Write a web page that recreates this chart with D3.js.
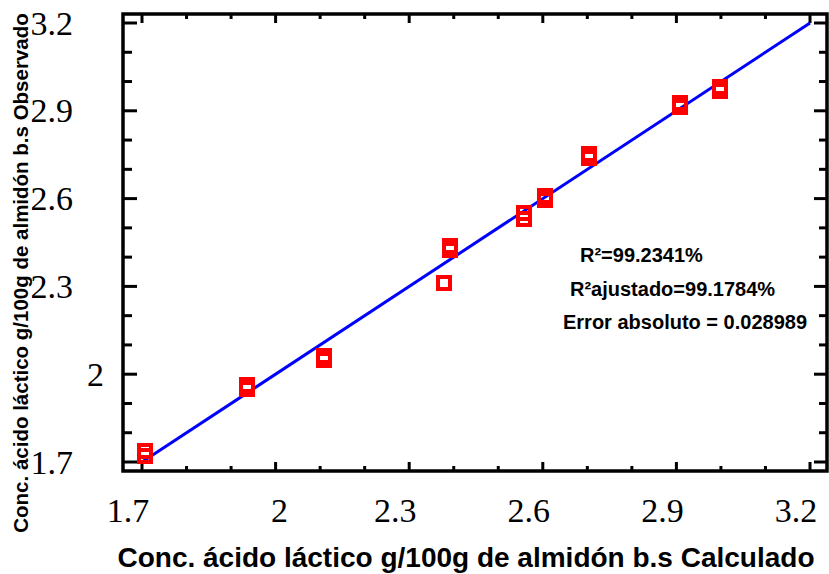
<!DOCTYPE html>
<html>
<head>
<meta charset="utf-8">
<script src="https://cdn.jsdelivr.net/npm/d3@7/dist/d3.min.js"></script>
<style>
  html, body { margin: 0; padding: 0; background: #fff; }
  svg { display: block; }
</style>
</head>
<body>
<svg id="chart" width="829" height="574"></svg>
<script>
// Predicted (calculated) vs. observed lactic acid concentration, replicate runs
const calculado = [1.706, 1.706, 1.936, 1.936, 2.108, 2.108, 2.378, 2.392, 2.392,
                   2.558, 2.558, 2.605, 2.605, 2.703, 2.703, 2.909, 2.909, 2.999, 2.999];
const observado = [1.736, 1.722, 1.963, 1.949, 2.063, 2.049, 2.313, 2.438, 2.424,
                   2.551, 2.530, 2.609, 2.595, 2.752, 2.739, 2.927, 2.913, 2.983, 2.969];

// Reference line (observed = calculated)
const lineaX = [1.7, 3.2];
const lineaY = [1.7, 3.2];

const tickLabels = [1.7, 2, 2.3, 2.6, 2.9, 3.2];
const axisMin = 1.7, axisMax = 3.2, minorStep = 0.1;

const stats = ["R\u00b2=99.2341%", "R\u00b2ajustado=99.1784%", "Error absoluto = 0.028989"];

const xTitle = "Conc. ácido láctico g/100g de almidón b.s Calculado";
const yTitle = "Conc. ácido láctico g/100g de almidón b.s Observado";

const svg = d3.select("#chart");

// Plot frame and scales
const frame = { left: 123, right: 827, top: 14, bottom: 471 };
const x = d3.scaleLinear().domain([axisMin, axisMax]).range([142, 810]);
const y = d3.scaleLinear().domain([axisMin, axisMax]).range([462, 23]);

const tickVals = d3.range(0, Math.round((axisMax - axisMin) / minorStep) + 1)
  .map(i => +(axisMin + i * minorStep).toFixed(2));
const isMajor = v => tickLabels.some(t => Math.abs(t - v) < 1e-6);

const ink = "#000";
const g = svg.append("g");

// ticks on all four sides (pointing inward)
const tickW = 3;
g.selectAll("line.tb").data(tickVals).join("line")
  .attr("x1", d => x(d)).attr("x2", d => x(d))
  .attr("y1", frame.bottom).attr("y2", d => frame.bottom - (isMajor(d) ? 9 : 5))
  .attr("stroke", ink).attr("stroke-width", tickW);
g.selectAll("line.tt").data(tickVals).join("line")
  .attr("x1", d => x(d)).attr("x2", d => x(d))
  .attr("y1", frame.top).attr("y2", d => frame.top + (isMajor(d) ? 9 : 5))
  .attr("stroke", ink).attr("stroke-width", tickW);
g.selectAll("line.tl").data(tickVals).join("line")
  .attr("y1", d => y(d)).attr("y2", d => y(d))
  .attr("x1", frame.left).attr("x2", d => frame.left + (isMajor(d) ? 14 : 9))
  .attr("stroke", ink).attr("stroke-width", tickW);
g.selectAll("line.tr").data(tickVals).join("line")
  .attr("y1", d => y(d)).attr("y2", d => y(d))
  .attr("x1", frame.right).attr("x2", d => frame.right - (isMajor(d) ? 13 : 8))
  .attr("stroke", ink).attr("stroke-width", tickW);

// frame
g.append("rect")
  .attr("x", frame.left).attr("y", frame.top)
  .attr("width", frame.right - frame.left).attr("height", frame.bottom - frame.top)
  .attr("fill", "none").attr("stroke", ink).attr("stroke-width", 3.5);

// tick labels (serif)
const fmt = d => String(d);
g.selectAll("text.xl").data(tickLabels).join("text")
  .attr("x", d => x(d) + (Number.isInteger(d) ? 4 : -14))
  .attr("y", 522)
  .attr("text-anchor", "middle")
  .attr("font-family", "'Liberation Serif', 'Times New Roman', serif")
  .attr("font-size", 34)
  .attr("fill", ink)
  .text(fmt);
g.selectAll("text.yl").data(tickLabels).join("text")
  .attr("x", d => Number.isInteger(d) ? 104 : 73)
  .attr("y", d => y(d))
  .attr("dy", "0.34em")
  .attr("text-anchor", "end")
  .attr("font-family", "'Liberation Serif', 'Times New Roman', serif")
  .attr("font-size", 34)
  .attr("fill", ink)
  .text(fmt);

// fitted line
const lineData = lineaX.map((v, i) => [v, lineaY[i]]);
g.append("path")
  .datum(lineData)
  .attr("d", d3.line().x(d => x(d[0])).y(d => y(d[1])))
  .attr("fill", "none").attr("stroke", "#0000ff").attr("stroke-width", 3);

// observations: open red squares
const side = 12;
g.selectAll("rect.pt").data(calculado.map((c, i) => [c, observado[i]])).join("rect")
  .attr("x", d => Math.round(x(d[0]) - side / 2))
  .attr("y", d => Math.round(y(d[1]) - side / 2))
  .attr("width", side).attr("height", side)
  .attr("shape-rendering", "crispEdges")
  .attr("fill", "none").attr("stroke", "#ff0000").attr("stroke-width", 4);

// fit statistics
const statX = [580, 570, 563];
const statY = [262, 296, 329];
g.selectAll("text.st").data(stats).join("text")
  .attr("x", (d, i) => statX[i]).attr("y", (d, i) => statY[i])
  .attr("font-family", "'Liberation Sans', Arial, sans-serif")
  .attr("font-weight", "bold").attr("font-size", 20)
  .attr("fill", ink)
  .text(d => d);

// axis titles
svg.append("text")
  .attr("x", 466).attr("y", 567)
  .attr("text-anchor", "middle")
  .attr("font-family", "'Liberation Sans', Arial, sans-serif")
  .attr("font-weight", "bold").attr("font-size", 28)
  .attr("fill", ink)
  .text(xTitle);
svg.append("text")
  .attr("transform", "translate(28,273) rotate(-90)")
  .attr("text-anchor", "middle")
  .attr("font-family", "'Liberation Sans', Arial, sans-serif")
  .attr("font-weight", "bold").attr("font-size", 20.5)
  .attr("fill", ink)
  .text(yTitle);
</script>
</body>
</html>
